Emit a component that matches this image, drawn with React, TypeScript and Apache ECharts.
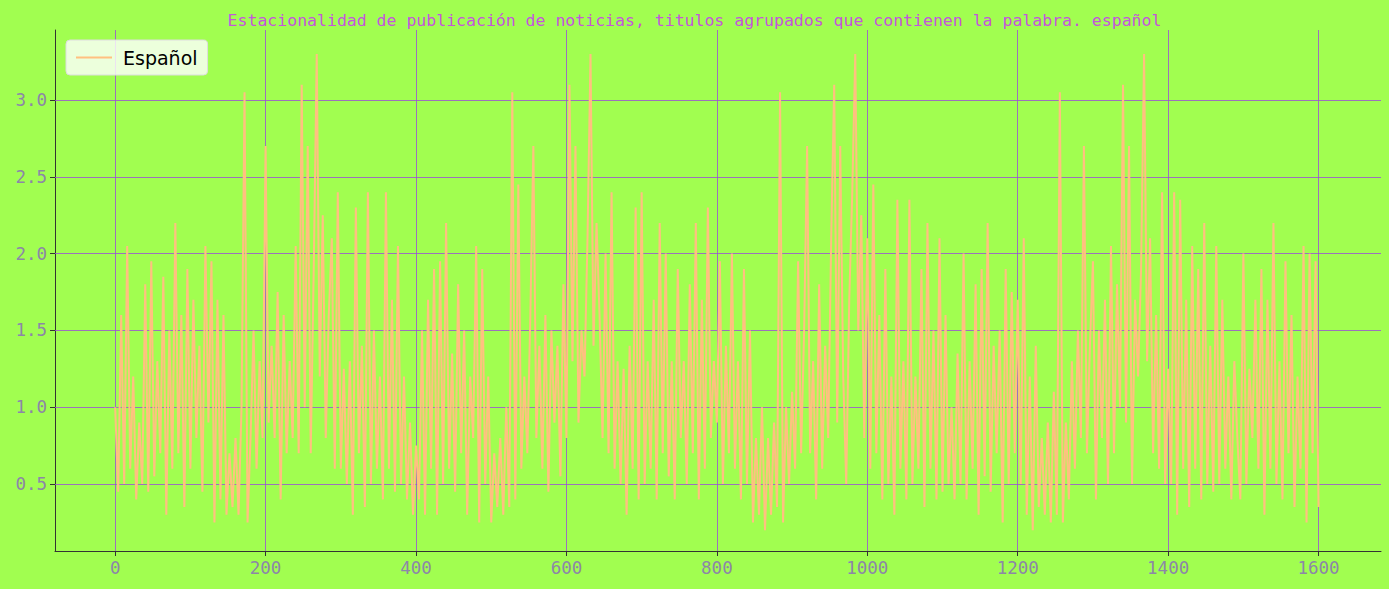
import { useEffect, useRef } from 'react';
import * as echarts from 'echarts';

// x positions step 4 from 0 to 1600
const xStep = 4;
const values: number[] = [
  1.0, 0.45, 1.6, 0.5, 2.05, 0.6, 1.2, 0.4, 0.9, 0.5, 1.8, 0.45, 1.95, 0.55, 1.3, 0.7, 1.85, 0.3, 1.5, 0.6, 2.2, 0.7, 1.6, 0.35, 1.9,
  0.6, 1.7, 0.8, 1.4, 0.45, 2.05, 0.9, 1.95, 0.25, 1.7, 0.4, 1.6, 0.3, 0.7, 0.35, 0.8, 0.3, 1.0, 3.05, 0.25, 0.8, 1.5, 0.6, 1.3, 0.8,
  2.7, 0.9, 1.4, 0.8, 1.75, 0.4, 1.6, 0.7, 1.3, 0.8, 2.05, 0.7, 3.1, 1.0, 2.7, 0.7, 1.9, 3.3, 1.2, 2.25, 0.8, 1.6, 2.1, 0.6, 2.4,
  0.6, 1.25, 0.5, 1.3, 0.3, 2.3, 0.7, 1.4, 0.35, 2.4, 0.5, 1.5, 0.6, 1.2, 0.4, 2.4, 0.6, 1.7, 0.45, 2.05, 0.5, 1.2, 0.4, 0.9, 0.3,
  0.75, 0.4, 1.5, 0.3, 1.7, 0.6, 1.9, 0.3, 1.95, 0.5, 2.2, 0.6, 1.35, 0.45, 1.8, 0.7, 1.5, 0.3, 1.2, 0.8, 2.05, 0.25, 1.9, 0.5, 1.2,
  0.25, 0.7, 0.35, 0.8, 0.3, 1.0, 0.35, 3.05, 0.4, 2.45, 0.6, 1.2, 0.7, 1.6, 2.7, 0.8, 1.4, 0.6, 1.6, 0.45, 1.5, 0.9, 1.4, 0.55, 1.8,
  0.8, 3.1, 1.3, 2.7, 0.9, 1.5, 1.2, 2.1, 3.3, 1.4, 2.2, 1.6, 0.8, 2.0, 0.7, 2.4, 0.6, 1.3, 0.5, 1.25, 0.3, 1.4, 0.6, 2.3, 0.4,
  2.4, 0.5, 1.3, 0.6, 1.7, 0.4, 2.2, 0.7, 2.0, 0.55, 1.3, 0.4, 1.9, 0.8, 1.3, 0.5, 1.8, 0.7, 2.2, 0.4, 1.7, 0.6, 2.3, 0.8, 1.3,
  0.9, 1.95, 0.5, 1.4, 0.7, 2.0, 0.6, 1.3, 0.4, 1.9, 0.5, 1.5, 0.25, 0.8, 0.3, 1.0, 0.2, 0.8, 0.3, 0.9, 0.35, 3.05, 0.25, 1.0, 0.5,
  1.1, 0.6, 1.95, 0.7, 1.5, 2.7, 0.7, 1.3, 0.4, 1.8, 0.6, 1.4, 0.8, 2.1, 3.1, 0.9, 2.7, 1.2, 0.5, 1.7, 2.4, 3.3, 1.5, 2.25, 0.8,
  2.1, 0.6, 2.45, 0.7, 1.6, 0.4, 1.9, 0.5, 1.2, 0.3, 2.35, 0.6, 1.3, 0.4, 2.35, 0.5, 1.2, 0.6, 1.9, 0.35, 2.2, 0.6, 1.5, 0.4, 2.1,
  0.45, 1.6, 0.5, 1.0, 0.4, 1.35, 0.5, 2.0, 0.4, 1.3, 0.6, 1.8, 0.3, 1.9, 0.55, 2.2, 0.45, 1.4, 0.7, 1.5, 0.25, 1.9, 0.5, 1.75, 0.7,
  1.7, 0.5, 2.1, 0.3, 1.2, 0.2, 1.4, 0.35, 0.8, 0.3, 0.9, 0.25, 1.1, 0.3, 3.05, 0.25, 0.9, 0.4, 1.3, 0.6, 1.5, 0.8, 2.7, 0.7, 1.4,
  1.95, 0.4, 1.5, 0.8, 1.7, 0.5, 2.05, 0.7, 1.8, 1.0, 3.1, 0.9, 2.7, 0.5, 1.7, 1.2, 1.9, 3.3, 1.3, 2.1, 0.7, 1.6, 0.6, 2.4, 0.5,
  1.25, 0.5, 2.4, 0.3, 2.35, 0.6, 1.7, 0.35, 2.05, 0.6, 1.9, 0.4, 2.2, 0.5, 1.4, 0.45, 2.05, 0.5, 1.7, 0.6, 1.2, 0.4, 1.3, 0.8, 0.4,
  2.0, 0.5, 1.25, 0.8, 1.7, 0.6, 1.9, 0.3, 1.7, 0.6, 2.2, 0.5, 1.3, 0.4, 1.95, 0.7, 1.6, 0.35, 1.2, 0.6, 2.05, 0.25, 2.0, 0.7, 1.95, 0.35,
];
const xTicks = [0, 200, 400, 600, 800, 1000, 1200, 1400, 1600];
const yTicks = [0.5, 1.0, 1.5, 2.0, 2.5, 3.0];

const gridColor = '#9b4fd6';
const labelColor = '#8c86a8';
const mono = "'DejaVu Sans Mono', 'Liberation Mono', monospace";

export default function App() {
  const ref = useRef<HTMLDivElement>(null);

  useEffect(() => {
    document.body.style.margin = '0';
    if (!ref.current) return;
    const chart = echarts.init(ref.current, null, { renderer: 'svg' });
    const data = values.map((v, i) => [i * xStep, v]);
    chart.setOption({
      animation: false,
      backgroundColor: '#a1fe50',
      title: {
        text: 'Estacionalidad de publicación de noticias, titulos agrupados que contienen la palabra. español',
        left: 'center',
        top: 7,
        textStyle: { color: '#c455dc', fontSize: 16.5, fontWeight: 'normal', fontFamily: mono },
      },
      legend: {
        left: 66,
        top: 40,
        padding: [8, 10],
        backgroundColor: 'rgba(255,255,255,0.8)',
        borderColor: '#dddddd',
        borderWidth: 1,
        borderRadius: 4,
        itemWidth: 36,
        itemHeight: 2,
        itemGap: 14,
        textStyle: { fontFamily: 'DejaVu Sans', fontSize: 19, color: '#000', padding: [0, 0, 0, 6] },
        data: [{ name: 'Español', icon: 'rect' }],
      },
      grid: { left: 55, right: 8, top: 30, bottom: 38 },
      xAxis: {
        type: 'value',
        min: -80,
        max: 1683,
        axisLine: { show: true, onZero: false, lineStyle: { color: '#333' } },
        splitLine: { show: false },
        axisTick: { show: true, customValues: xTicks, lineStyle: { color: '#333' } },
        axisLabel: {
          customValues: xTicks,
          color: labelColor,
          fontSize: 17.5,
          fontFamily: mono,
          margin: 8,
          formatter: (v: number) => String(v),
        },
      },
      yAxis: {
        type: 'value',
        min: 0.064,
        max: 3.456,
        axisLine: { show: true, onZero: false, lineStyle: { color: '#333' } },
        splitLine: { show: false },
        axisTick: { show: true, customValues: yTicks, lineStyle: { color: '#333' } },
        axisLabel: {
          customValues: yTicks,
          color: labelColor,
          fontSize: 17.5,
          fontFamily: mono,
          formatter: (v: number) => v.toFixed(1),
        },
      },
      series: [
        {
          name: 'Español',
          type: 'line',
          data,
          showSymbol: false,
          color: '#ffc080',
          lineStyle: { width: 2, color: '#ffc080' },
          z: 3,
          markLine: {
            silent: true,
            symbol: 'none',
            label: { show: false },
            lineStyle: { color: gridColor, width: 1, type: 'solid', opacity: 0.8 },
            data: [...xTicks.map((x) => ({ xAxis: x })), ...yTicks.map((y) => ({ yAxis: y }))],
            z: 1,
          },
        },
      ],
    });
    return () => chart.dispose();
  }, []);

  return <div ref={ref} style={{ width: 1389, height: 589 }} />;
}
